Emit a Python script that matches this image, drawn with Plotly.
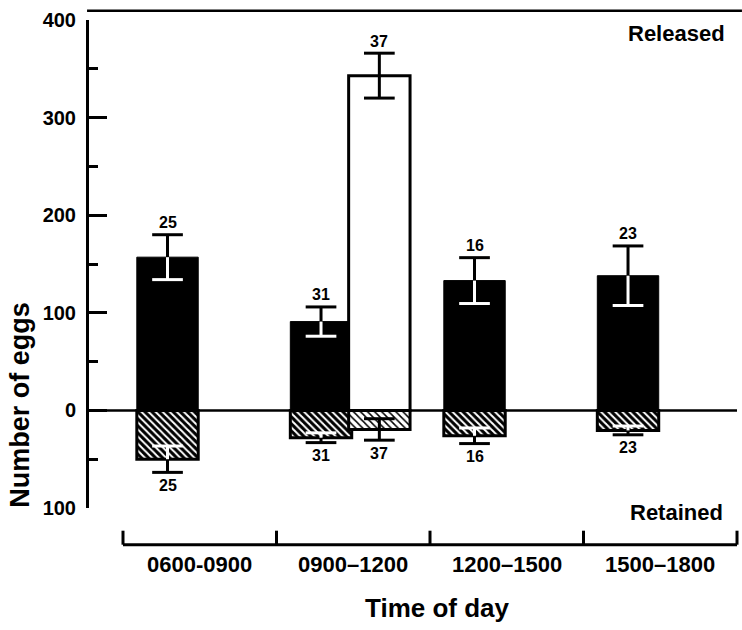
import plotly.graph_objects as go

# ---------------- data ----------------
categories = ["0600-0900", "0900–1200", "1200–1500", "1500–1800"]

released_black = [157, 91, 133, 138]
released_black_se = [23, 15, 23.5, 30.5]
released_black_n = [25, 31, 16, 23]

retained_black = [-50, -28, -26, -20.5]
retained_black_se = [13.5, 5, 8, 4.5]
retained_black_n = [25, 31, 16, 23]

white_group = [1]            # index of the category that has the open bar
released_white = [343]
released_white_se = [23]
released_white_n = [37]
retained_white = [-19.5]
retained_white_se = [11]
retained_white_n = [37]

y_tick_vals = [-100, 0, 100, 200, 300, 400]
y_tick_text = ["100", "0", "100", "200", "300", "400"]
y_minor_vals = [-50, 50, 150, 250, 350]

# ---------------- geometry helpers ----------------
BLACK_OFF = -0.21
WHITE_OFF = 0.17
BAR_W = 0.40
CAP = 0.10
FONT = "Liberation Sans, Arial, Helvetica, sans-serif"

black_x = [i + BLACK_OFF for i in range(len(categories))]
white_x = [i + WHITE_OFF for i in white_group]


def segments(xs, means, ses, part):
    """part='outer' -> away from zero, 'inner' -> toward zero"""
    X, Y = [], []
    for x, m, s in zip(xs, means, ses):
        sign = 1 if m > 0 else -1
        end = m + sign * s if part == "outer" else m - sign * s
        X += [x, x, None, x - CAP, x + CAP, None]
        Y += [m, end, None, end, end, None]
    return X, Y


fig = go.Figure()

# bars
fig.add_trace(go.Bar(x=black_x, y=released_black, width=BAR_W,
                     marker=dict(color="black", line=dict(color="black", width=1))))
fig.add_trace(go.Bar(x=white_x, y=released_white, width=BAR_W,
                     marker=dict(color="white", line=dict(color="black", width=3))))
fig.add_trace(go.Bar(x=black_x, y=retained_black, width=BAR_W,
                     marker=dict(color="black", line=dict(color="black", width=3),
                                 pattern=dict(shape="\\", fillmode="replace",
                                              bgcolor="black", fgcolor="white",
                                              size=5, solidity=0.4))))
fig.add_trace(go.Bar(x=white_x, y=retained_white, width=BAR_W,
                     marker=dict(color="white", line=dict(color="black", width=3),
                                 pattern=dict(shape="\\", fillmode="replace",
                                              bgcolor="white", fgcolor="black",
                                              size=5, solidity=0.3))))

# error bars
for xs, ms, ss, inner_col in [
    (black_x, released_black, released_black_se, "white"),
    (black_x, retained_black, retained_black_se, "white"),
    (white_x, released_white, released_white_se, "black"),
    (white_x, retained_white, retained_white_se, "black"),
]:
    ox, oy = segments(xs, ms, ss, "outer")
    ix, iy = segments(xs, ms, ss, "inner")
    fig.add_trace(go.Scatter(x=ox, y=oy, mode="lines",
                             line=dict(color="black", width=3), hoverinfo="skip"))
    fig.add_trace(go.Scatter(x=ix, y=iy, mode="lines",
                             line=dict(color=inner_col, width=3), hoverinfo="skip"))

annotations = []
# sample-size labels
for xs, ms, ss, ns in [
    (black_x, released_black, released_black_se, released_black_n),
    (black_x, retained_black, retained_black_se, retained_black_n),
    (white_x, released_white, released_white_se, released_white_n),
    (white_x, retained_white, retained_white_se, retained_white_n),
]:
    for x, m, s, n in zip(xs, ms, ss, ns):
        sign = 1 if m > 0 else -1
        annotations.append(dict(x=x, y=m + sign * s, xref="x", yref="y",
                                text=str(n), showarrow=False,
                                xanchor="center", yanchor="middle",
                                yshift=12 * sign + (0 if sign > 0 else -1),
                                font=dict(family=FONT, size=16, color="black", weight="bold")))

# category labels
for i, c in enumerate(categories):
    annotations.append(dict(x=i, y=-0.116, xref="x", yref="paper", text=c,
                            showarrow=False, xanchor="center", yanchor="middle",
                            font=dict(family=FONT, size=22, color="black", weight="bold")))

annotations += [
    dict(x=0.536, y=-0.204, xref="paper", yref="paper", text="Time of day",
         showarrow=False, xanchor="center", yanchor="middle",
         font=dict(family=FONT, size=26, color="black", weight="bold")),
    dict(x=-0.106, y=0.2117, xref="paper", yref="paper", text="Number of eggs",
         textangle=-90, showarrow=False, xanchor="center", yanchor="middle",
         font=dict(family=FONT, size=27, color="black", weight="bold")),
    dict(x=0.980, y=0.972, xref="paper", yref="paper", text="Released",
         xanchor="right", yanchor="middle", showarrow=False,
         font=dict(family=FONT, size=22, color="black", weight="bold")),
    dict(x=0.977, y=-0.0096, xref="paper", yref="paper", text="Retained",
         xanchor="right", yanchor="middle", showarrow=False,
         font=dict(family=FONT, size=22, color="black", weight="bold")),
]

shapes = [
    # top rule
    dict(type="line", xref="paper", yref="paper", x0=-0.003, x1=1.003, y0=1.019, y1=1.019,
         line=dict(color="black", width=2.5), layer="above"),
    # zero line
    dict(type="line", xref="paper", yref="y", x0=0, x1=0.9954, y0=0, y1=0,
         line=dict(color="black", width=2.5), layer="above"),
    # x bracket
    dict(type="line", xref="x", yref="paper", x0=-0.5, x1=len(categories) - 0.5,
         y0=-0.0752, y1=-0.0752, line=dict(color="black", width=3)),
]
for i in range(len(categories) + 1):
    shapes.append(dict(type="line", xref="x", yref="paper", x0=i - 0.5, x1=i - 0.5,
                       y0=-0.0752, y1=-0.0465, line=dict(color="black", width=3)))

fig.update_layout(
    width=742, height=630,
    margin=dict(l=89, r=2, t=20, b=122),
    paper_bgcolor="white", plot_bgcolor="white",
    showlegend=False, barmode="overlay",
    annotations=annotations, shapes=shapes,
    xaxis=dict(range=[-0.7215, 3.5195], visible=False),
    yaxis=dict(range=[-100, 400], showgrid=False, zeroline=False,
               showline=True, linecolor="black", linewidth=3,
               ticks="inside", ticklen=18, tickwidth=3, tickcolor="black",
               tickmode="array", tickvals=y_tick_vals, ticktext=y_tick_text,
               ticklabelstandoff=6,
               tickfont=dict(family=FONT, size=20, color="black", weight="bold"),
               minor=dict(ticks="inside", ticklen=9, tickwidth=3, tickcolor="black",
                          tickmode="array", tickvals=y_minor_vals, showgrid=False)),
)

fig.write_html("out.html")
